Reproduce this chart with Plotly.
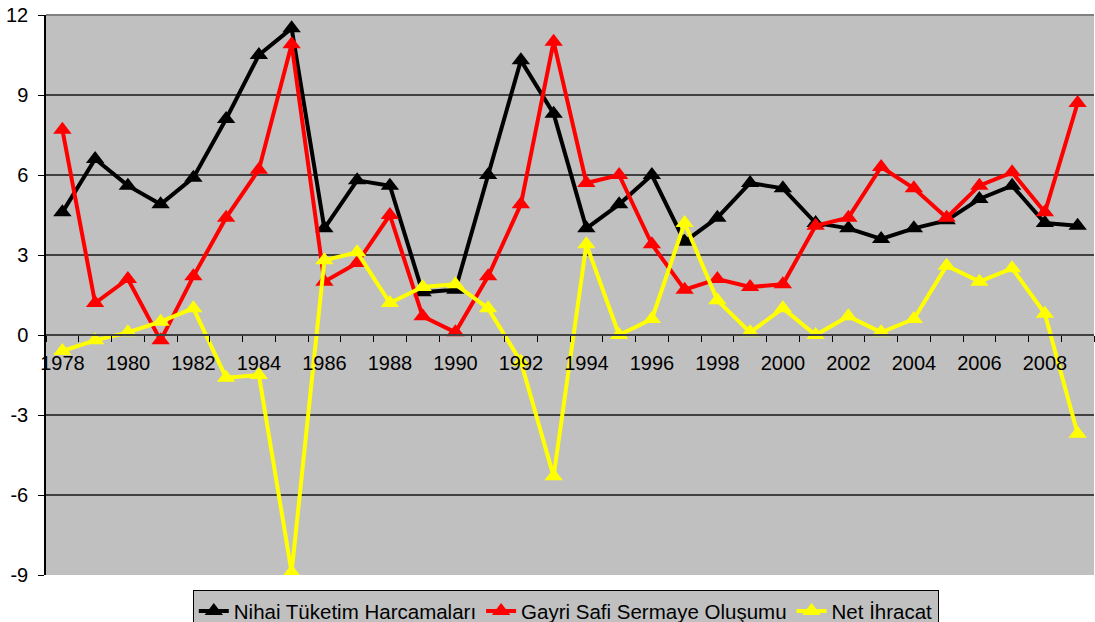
import plotly.graph_objects as go

years = list(range(1978, 2010))
nihai = [4.6, 6.6, 5.6, 4.9, 5.9, 8.1, 10.5, 11.5, 4.0, 5.8, 5.6, 1.6, 1.7, 6.0, 10.3, 8.3,
         4.0, 4.9, 6.0, 3.5, 4.4, 5.7, 5.5, 4.2, 4.0, 3.6, 4.0, 4.3, 5.1, 5.6, 4.2, 4.1]
gayri = [7.7, 1.2, 2.1, -0.2, 2.2, 4.4, 6.2, 10.9, 2.0, 2.7, 4.5, 0.7, 0.1, 2.2, 4.9, 11.0,
         5.7, 6.0, 3.4, 1.7, 2.1, 1.8, 1.9, 4.1, 4.4, 6.3, 5.5, 4.4, 5.6, 6.1, 4.6, 8.7]
net = [-0.6, -0.2, 0.1, 0.5, 1.0, -1.6, -1.5, -8.9, 2.8, 3.1, 1.2, 1.8, 1.9, 1.0, -1.0, -5.3,
       3.4, 0.0, 0.6, 4.2, 1.3, 0.1, 1.0, 0.0, 0.7, 0.1, 0.6, 2.6, 2.0, 2.5, 0.8, -3.7]

series = [
    ("Nihai Tüketim Harcamaları", nihai, "#000000"),
    ("Gayri Safi Sermaye Oluşumu", gayri, "#ff0000"),
    ("Net İhracat", net, "#ffff00"),
]
x_labels = [str(y) for y in range(1978, 2010, 2)]
y_ticks = list(range(-9, 13, 3))

FONT = "Liberation Sans, Arial, sans-serif"

fig = go.Figure()
for name, vals, col in series:
    fig.add_trace(go.Scatter(
        x=years, y=vals, name=name, mode="lines+markers",
        line=dict(color=col, width=4),
        marker=dict(symbol="triangle-up", size=16, color=col),
    ))

fig.update_layout(
    width=1095, height=622,
    margin=dict(l=46, r=1, t=15, b=47, autoexpand=False),
    paper_bgcolor="#ffffff",
    plot_bgcolor="#c0c0c0",
    font=dict(family=FONT, size=20, color="#000000"),
    showlegend=True,
    legend=dict(
        orientation="h", x=0.496, xanchor="center", y=-0.027, yanchor="top",
        bgcolor="#c0c0c0", bordercolor="#000000", borderwidth=1,
        font=dict(family=FONT, size=20.5, color="#000000"),
        itemwidth=30, tracegroupgap=0,
    ),
    xaxis=dict(
        range=[1977.5, 2009.5], automargin=False,
        tickmode="array", tickvals=list(range(1978, 2010, 2)), ticktext=x_labels,
        ticks="", showgrid=False, zeroline=False,
        showline=True, linecolor="#404040", linewidth=2,
        anchor="free", position=9/21, ticklabelstandoff=10,
        tickfont=dict(family=FONT, size=20, color="#000000"),
        minor=dict(tickmode="linear", tick0=1977.5, dtick=1, ticks="outside",
                   ticklen=6, tickcolor="#000000", tickwidth=1, showgrid=False),
    ),
    yaxis=dict(
        range=[-9, 12], tickmode="array", tickvals=y_ticks, automargin=False,
        ticktext=[str(v) for v in y_ticks],
        ticks="outside", ticklen=6, tickcolor="#000000", ticklabelstandoff=6,
        showgrid=True, gridcolor="#404040", gridwidth=1.5,
        zeroline=False, showline=True, linecolor="#000000", linewidth=1.5,
        tickfont=dict(family=FONT, size=20, color="#000000"),
    ),
)

fig.add_shape(type="line", xref="paper", yref="paper", x0=0, x1=1, y0=1, y1=1,
              line=dict(color="#808080", width=2))

fig.write_html(
    "out.html",
    config={"displayModeBar": False},
    post_script="document.body.style.margin='0';document.body.style.overflow='hidden';",
)
